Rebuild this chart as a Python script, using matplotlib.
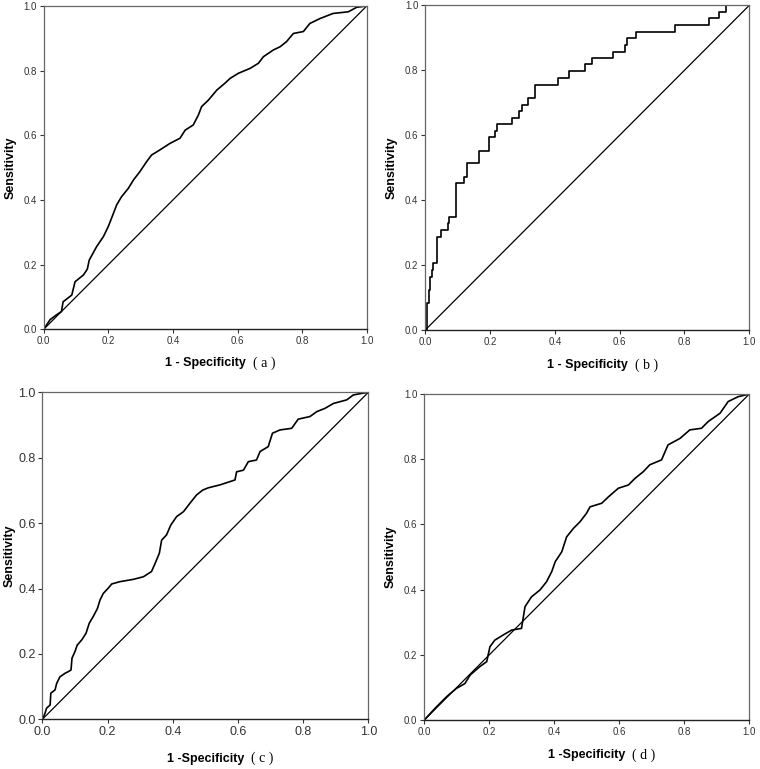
import numpy as np
import matplotlib
matplotlib.use('Agg')
import matplotlib.pyplot as plt

plt.rcParams['font.family'] = ['Liberation Sans', 'DejaVu Sans']

# ROC points (1 - specificity, sensitivity)
fpr_a = [0.0, 0.02, 0.04, 0.055, 0.06, 0.087, 0.097, 0.123, 0.135, 0.141, 0.164, 0.185,
         0.2, 0.216, 0.226, 0.241, 0.262, 0.278, 0.298, 0.319, 0.334, 0.36, 0.391, 0.422,
         0.438, 0.463, 0.479, 0.489, 0.51, 0.536, 0.561, 0.577, 0.603, 0.639, 0.665, 0.68,
         0.711, 0.732, 0.752, 0.773, 0.804, 0.824, 0.855, 0.896, 0.943, 0.969, 1.0]
tpr_a = [0.0, 0.03, 0.045, 0.055, 0.085, 0.106, 0.147, 0.168, 0.186, 0.214, 0.256, 0.287,
         0.318, 0.359, 0.385, 0.41, 0.436, 0.462, 0.488, 0.519, 0.539, 0.555, 0.575, 0.591,
         0.616, 0.632, 0.663, 0.689, 0.709, 0.74, 0.761, 0.776, 0.792, 0.807, 0.823, 0.843,
         0.864, 0.874, 0.89, 0.915, 0.921, 0.946, 0.961, 0.977, 0.982, 0.996, 1.0]

fpr_b = [0.0, 0.005, 0.01, 0.015, 0.02, 0.025, 0.037, 0.047, 0.07, 0.074, 0.094, 0.12,
         0.13, 0.167, 0.197, 0.215, 0.22, 0.268, 0.288, 0.298, 0.318, 0.34, 0.41, 0.445,
         0.493, 0.513, 0.58, 0.617, 0.622, 0.649, 0.77, 0.877, 0.905, 0.928, 1.0]
tpr_b = [0.0, 0.082, 0.123, 0.164, 0.185, 0.205, 0.287, 0.308, 0.329, 0.349, 0.452, 0.472,
         0.513, 0.552, 0.593, 0.614, 0.633, 0.654, 0.675, 0.694, 0.716, 0.756, 0.776, 0.798,
         0.818, 0.838, 0.857, 0.879, 0.898, 0.919, 0.939, 0.96, 0.98, 1.0, 1.0]

fpr_c = [0.0, 0.008, 0.013, 0.024, 0.026, 0.039, 0.044, 0.054, 0.07, 0.08, 0.088, 0.091,
         0.1, 0.107, 0.121, 0.134, 0.144, 0.156, 0.169, 0.177, 0.187, 0.202, 0.213, 0.238,
         0.279, 0.31, 0.335, 0.346, 0.359, 0.366, 0.381, 0.394, 0.412, 0.433, 0.453, 0.473,
         0.492, 0.509, 0.545, 0.591, 0.596, 0.617, 0.632, 0.657, 0.668, 0.693, 0.706, 0.729,
         0.765, 0.785, 0.821, 0.842, 0.867, 0.893, 0.934, 0.954, 0.98, 1.0]
tpr_c = [0.0, 0.018, 0.034, 0.044, 0.08, 0.09, 0.11, 0.13, 0.141, 0.146, 0.151, 0.187,
         0.207, 0.227, 0.243, 0.263, 0.294, 0.314, 0.339, 0.365, 0.385, 0.401, 0.414, 0.421,
         0.428, 0.436, 0.452, 0.477, 0.508, 0.548, 0.564, 0.594, 0.62, 0.635, 0.661, 0.686,
         0.701, 0.708, 0.717, 0.732, 0.757, 0.762, 0.788, 0.793, 0.819, 0.834, 0.875, 0.885,
         0.89, 0.918, 0.926, 0.941, 0.951, 0.966, 0.977, 0.992, 0.997, 1.0]

fpr_d = [0.0, 0.033, 0.069, 0.099, 0.125, 0.141, 0.171, 0.192, 0.202, 0.217, 0.243, 0.269,
         0.299, 0.31, 0.33, 0.356, 0.376, 0.392, 0.403, 0.423, 0.438, 0.459, 0.479, 0.499,
         0.51, 0.546, 0.567, 0.597, 0.628, 0.648, 0.674, 0.694, 0.73, 0.75, 0.787, 0.817,
         0.853, 0.874, 0.91, 0.935, 0.966, 1.0]
tpr_d = [0.0, 0.036, 0.072, 0.097, 0.112, 0.138, 0.164, 0.179, 0.225, 0.245, 0.261, 0.276,
         0.281, 0.348, 0.378, 0.399, 0.424, 0.455, 0.486, 0.516, 0.562, 0.588, 0.608, 0.634,
         0.654, 0.665, 0.685, 0.711, 0.721, 0.741, 0.762, 0.783, 0.798, 0.844, 0.864, 0.89,
         0.895, 0.916, 0.941, 0.977, 0.992, 1.0]

ticks = [0.0, 0.2, 0.4, 0.6, 0.8, 1.0]
tick_labels = ['0.0', '0.2', '0.4', '0.6', '0.8', '1.0']

# panel setup: (axes rect, data, step?, x label, tag, tick font size, xlabel offset, ylabel pad)
panels = [
    ([0.0575, 0.5718, 0.4250, 0.4204], fpr_a, tpr_a, False, '1 - Specificity', 'a', 7, -0.105, 5),
    ([0.5596, 0.5709, 0.4263, 0.4222], fpr_b, tpr_b, True, '1 - Specificity', 'b', 7, -0.108, 5),
    ([0.0557, 0.0646, 0.4289, 0.4252], fpr_c, tpr_c, False, '1 -Specificity', 'c', 9, -0.12, 2),
    ([0.5583, 0.0637, 0.4276, 0.4239], fpr_d, tpr_d, False, '1 -Specificity', 'd', 7, -0.108, 5),
]

fig = plt.figure(figsize=(7.6, 7.69), dpi=100)

for rect, fx, ty, step, xlab, tag, tfs, xoff, ypad in panels:
    ax = fig.add_axes(rect)
    ax.plot([0, 1], [0, 1], color='black', linewidth=0.9)
    if step:
        ax.plot(fx, ty, color='black', linewidth=1.2, drawstyle='steps-post')
    else:
        ax.plot(fx, ty, color='black', linewidth=1.2)
    ax.set_xlim(0, 1)
    ax.set_ylim(0, 1)
    ax.set_xticks(ticks)
    ax.set_yticks(ticks)
    ax.set_xticklabels(tick_labels)
    ax.set_yticklabels(tick_labels)
    ax.tick_params(direction='out', length=3, width=0.8, pad=2,
                   labelsize=tfs, colors='#333333')
    for side in ['left', 'right', 'top']:
        ax.spines[side].set_color('#666666')
        ax.spines[side].set_linewidth(0.9)
    ax.spines['bottom'].set_color('#222222')
    ax.spines['bottom'].set_linewidth(1.0)
    ax.set_ylabel('Sensitivity', fontsize=9, fontweight='bold', labelpad=ypad)
    t = ax.text(0.5, xoff, xlab, transform=ax.transAxes, ha='center', va='center',
                fontsize=9, fontweight='bold')
    ax.annotate('  ( %s )' % tag, xy=(1, 0.5), xycoords=t, va='center', ha='left',
                fontsize=10, family='Liberation Serif')

plt.savefig('out.png', dpi=100)
